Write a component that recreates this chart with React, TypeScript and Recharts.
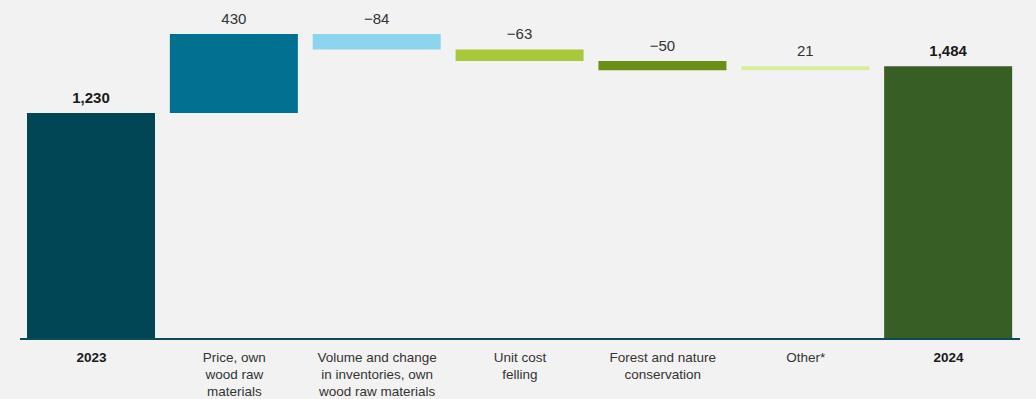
import React from "react";
import { Bar, BarChart, Cell, LabelList, XAxis, YAxis } from "recharts";

const categories = [
  "2023",
  "Price, own|wood raw|materials",
  "Volume and change|in inventories, own|wood raw materials",
  "Unit cost|felling",
  "Forest and nature|conservation",
  "Other*",
  "2024",
];
const startValue = 1230;
const changes = [430, -84, -63, -50, 21];
const endValue = 1484;
const barColors = ["#004655", "#007190", "#8BD6EE", "#A8C83C", "#6A8F16", "#D8EE9A", "#375E25"];

const FONT = "'Liberation Sans', Arial, Helvetica, sans-serif";

const fmt = (v: number) => {
  const s = Math.abs(v).toLocaleString("en-US");
  return v < 0 ? `\u2212${s}` : s;
};

const buildData = () => {
  const rows = [{ name: categories[0], base: 0, size: startValue, label: startValue, total: true }];
  let running = startValue;
  changes.forEach((c, i) => {
    const next = running + c;
    rows.push({
      name: categories[i + 1],
      base: Math.min(running, next),
      size: Math.abs(c),
      label: c,
      total: false,
    });
    running = next;
  });
  rows.push({ name: categories[categories.length - 1], base: 0, size: endValue, label: endValue, total: true });
  return rows;
};

const data = buildData();

const CategoryTick = (props: any) => {
  const { x, y, payload, index } = props;
  const lines = String(payload.value).split("|");
  const bold = index === 0 || index === categories.length - 1;
  return (
    <text
      x={x}
      y={y}
      textAnchor="middle"
      fontFamily={FONT}
      fontSize={13.5}
      fontWeight={bold ? 700 : 400}
      fill={bold ? "#1a1a1a" : "#333333"}
    >
      {lines.map((l, i) => (
        <tspan key={i} x={x} y={y + 15 + i * 17}>
          {l}
        </tspan>
      ))}
    </text>
  );
};

const ValueLabel = (props: any) => {
  const { x, y, width, index } = props;
  const row = data[index];
  return (
    <text
      x={x + width / 2}
      y={y - 10}
      textAnchor="middle"
      fontFamily={FONT}
      fontSize={15}
      fontWeight={row.total ? 700 : 400}
      fill={row.total ? "#1a1a1a" : "#333333"}
    >
      {fmt(row.label)}
    </text>
  );
};

export default function App() {
  return (
    <div
      style={{
        position: "fixed",
        left: 0,
        top: 0,
        width: 1036,
        height: 399,
        background: "#f2f2f2",
      }}
    >
      <BarChart
        width={1036}
        height={399}
        data={data}
        margin={{ top: 0, right: 16, left: 20, bottom: 0 }}
        barSize={128}
      >
        <XAxis
          dataKey="name"
          interval={0}
          height={60}
          tickLine={false}
          axisLine={{ stroke: "#0b4a58", strokeWidth: 2 }}
          tick={<CategoryTick />}
        />
        <YAxis hide domain={[0, 1845]} />
        <Bar dataKey="base" stackId="w" fill="transparent" isAnimationActive={false} />
        <Bar dataKey="size" stackId="w" isAnimationActive={false}>
          {data.map((_, i) => (
            <Cell key={i} fill={barColors[i]} />
          ))}
          <LabelList dataKey="size" content={<ValueLabel />} />
        </Bar>
      </BarChart>
    </div>
  );
}
